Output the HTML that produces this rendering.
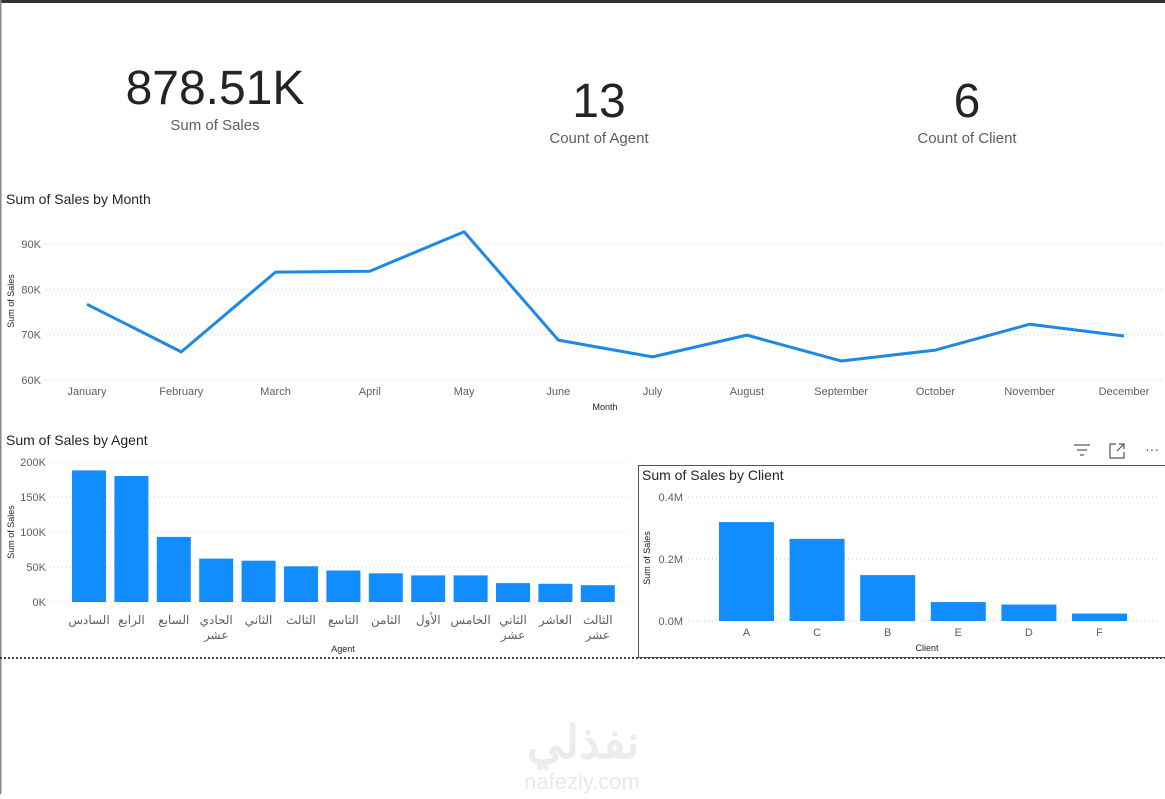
<!DOCTYPE html>
<html><head><meta charset="utf-8">
<style>
body{margin:0;background:#fff;width:1165px;height:794px;overflow:hidden;font-family:"Liberation Sans","Noto Sans CJK SC",sans-serif}
svg text{font-family:"Liberation Sans","Noto Sans CJK SC",sans-serif}
</style></head><body>
<svg id="s" width="1165" height="794" xmlns="http://www.w3.org/2000/svg">
<rect x="0" y="0" width="1165" height="3" fill="#333"/>
<rect x="0" y="0" width="1.5" height="794" fill="#888"/>
<g>
<text x="215" y="104" font-size="48" text-anchor="middle" fill="#252423">878.51K</text>
<text x="215" y="130" font-size="15" text-anchor="middle" fill="#605e5c">Sum of Sales</text></g>
<g>
<text x="599" y="117" font-size="48" text-anchor="middle" fill="#252423">13</text>
<text x="599" y="143" font-size="15" text-anchor="middle" fill="#605e5c">Count of Agent</text></g>
<g>
<text x="967" y="117" font-size="48" text-anchor="middle" fill="#252423">6</text>
<text x="967" y="143" font-size="15" text-anchor="middle" fill="#605e5c">Count of Client</text></g>

<text x="6" y="204" font-size="14" fill="#252423">Sum of Sales by Month</text>
<text x="6" y="445" font-size="14" fill="#252423">Sum of Sales by Agent</text>
<rect x="638.5" y="465.5" width="530" height="192" fill="none" stroke="#555" stroke-width="1"/>
<text x="642" y="480" font-size="14" fill="#252423">Sum of Sales by Client</text>
<line x1="0" y1="658" x2="1165" y2="658" stroke="#444" stroke-width="2" stroke-dasharray="2,2"/>
<g stroke="#555" stroke-width="1.2"><line x1="1074" y1="445" x2="1090" y2="445"/><line x1="1077" y1="450" x2="1087" y2="450"/><line x1="1080" y1="455" x2="1084" y2="455"/></g>
<g fill="none" stroke="#555" stroke-width="1.2"><path d="M1116 444 h-6 v14 h14 v-6"/><path d="M1117 451 l7 -7 M1119 444 h5 v5"/></g>
<text x="1152" y="454" font-size="14" text-anchor="middle" fill="#555">···</text>

<text x="583" y="758" font-size="46" font-weight="bold" text-anchor="middle" fill="#ececec" font-family="Noto Sans CJK SC">نفذلي</text>
<text x="582" y="789" font-size="22" text-anchor="middle" fill="#e8e8e8">nafezly.com</text>
<g id="g"></g>
</svg>
<script>
const months=["January","February","March","April","May","June","July","August","September","October","November","December"];
const monthSales=[76.7,66.2,83.8,84.0,92.7,68.8,65.1,69.9,64.2,66.6,72.3,69.7];
const monthTicks=[60,70,80,90];
const agents=[["السادس"],["الرابع"],["السابع"],["الحادي","عشر"],["الثاني"],["الثالث"],["التاسع"],["الثامن"],["الأول"],["الخامس"],["الثاني","عشر"],["العاشر"],["الثالث","عشر"]];
const agentSales=[188,180,93,62,59,51,45,41,38,38,27,26,24];
const agentTicks=[0,50,100,150,200];
const clients=["A","C","B","E","D","F"];
const clientSales=[0.319,0.265,0.148,0.061,0.053,0.024];
const clientTicks=[0,0.2,0.4];
const clientTickLabels=["0.0M","0.2M","0.4M"];

const NS="http://www.w3.org/2000/svg",G=document.getElementById('g');
function mk(t,a,txt){const e=document.createElementNS(NS,t);for(const k in a)e.setAttribute(k,a[k]);if(txt!=null)e.textContent=txt;G.appendChild(e);return e;}
const BLUE="#118dff";
const yM=v=>380-(v-60)*(136/30), xM=i=>87+i*94.27;
monthTicks.forEach(t=>{const l=mk('line',{x1:46,x2:1165,y1:yM(t),y2:yM(t),stroke:'#ccc','stroke-dasharray':'1,3'});
const tx=mk('text',{x:41,y:yM(t)+4,'font-size':11,'text-anchor':'end',fill:'#605e5c'},t+'K');});
months.forEach((m,i)=>{const tx=mk('text',{x:xM(i),y:395,'font-size':11,'text-anchor':'middle',fill:'#605e5c'},m);});
let p=mk('polyline',{points:monthSales.map((v,i)=>xM(i)+','+yM(v)).join(' '),fill:'none',stroke:'#1e88e5','stroke-width':3,'stroke-linejoin':'round'});

let t1=mk('text',{x:605,y:410,'font-size':9,'text-anchor':'middle',fill:'#252423'},'Month');
let t2=mk('text',{x:14,y:301,'font-size':9,'text-anchor':'middle',fill:'#252423',transform:'rotate(-90 14 301)'},'Sum of Sales');
const yA=v=>602-v*0.7, xA=i=>89+i*42.4;
agentTicks.forEach(t=>{const l=mk('line',{x1:50,x2:628,y1:yA(t),y2:yA(t),stroke:'#ccc','stroke-dasharray':'1,3'});
const tx=mk('text',{x:46,y:yA(t)+4,'font-size':11,'text-anchor':'end',fill:'#605e5c'},t+'K');});
agentSales.forEach((v,i)=>{const r=mk('rect',{x:xA(i)-17,y:yA(v),width:34,height:v*0.7,fill:BLUE});
agents[i].forEach((w,j)=>{const tx=mk('text',{x:xA(i),y:624+j*15,'font-size':12,'text-anchor':'middle',fill:'#605e5c',direction:'rtl'},w);});});
let t3=mk('text',{x:343,y:652,'font-size':9,'text-anchor':'middle',fill:'#252423'},'Agent');
let t4=mk('text',{x:14,y:532,'font-size':9,'text-anchor':'middle',fill:'#252423',transform:'rotate(-90 14 532)'},'Sum of Sales');
const yC=v=>621-v*310, xC=i=>746.5+i*70.6;
clientTicks.forEach((t,k)=>{const l=mk('line',{x1:688,x2:1160,y1:yC(t),y2:yC(t),stroke:'#ccc','stroke-dasharray':'1,3'});
const tx=mk('text',{x:683,y:yC(t)+4,'font-size':11,'text-anchor':'end',fill:'#605e5c'},clientTickLabels[k]);});
clientSales.forEach((v,i)=>{const r=mk('rect',{x:xC(i)-27.5,y:yC(v),width:55,height:v*310,fill:BLUE});
const tx=mk('text',{x:xC(i),y:636,'font-size':11,'text-anchor':'middle',fill:'#605e5c'},clients[i]);});
let t5=mk('text',{x:927,y:651,'font-size':9,'text-anchor':'middle',fill:'#252423'},'Client');
let t6=mk('text',{x:650,y:558,'font-size':9,'text-anchor':'middle',fill:'#252423',transform:'rotate(-90 650 558)'},'Sum of Sales');
</script>
</body></html>
